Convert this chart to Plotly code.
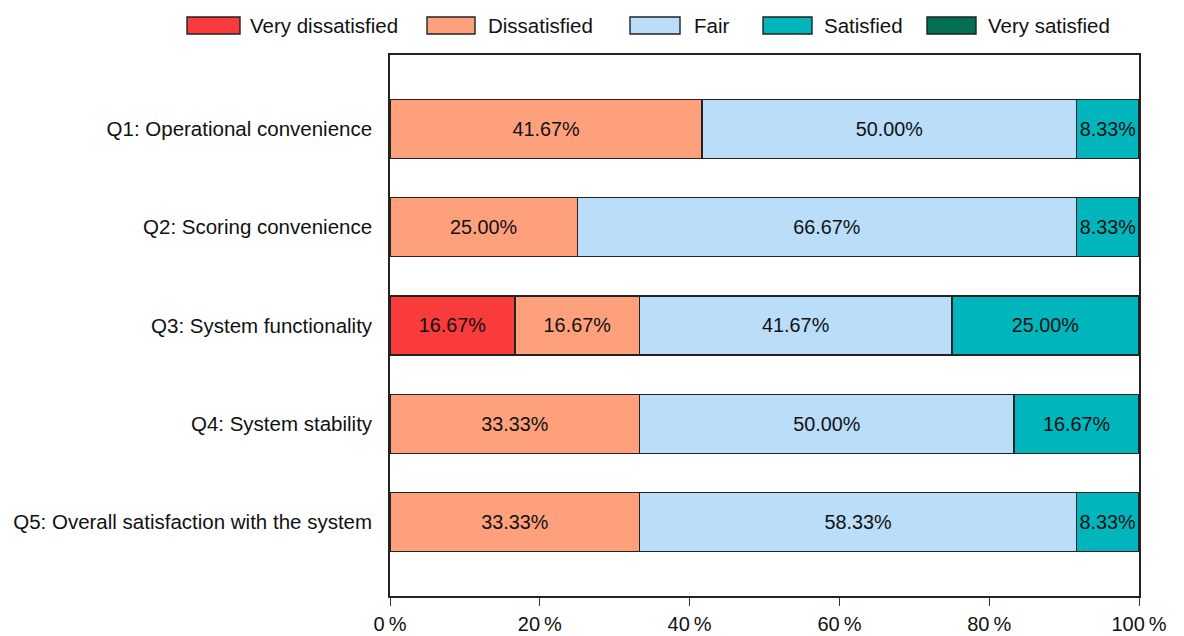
import plotly.graph_objects as go

# Survey questions (top to bottom)
questions = [
    "Q1: Operational convenience",
    "Q2: Scoring convenience",
    "Q3: System functionality",
    "Q4: System stability",
    "Q5: Overall satisfaction with the system",
]

# Response levels and their fill colours
levels = ["Very dissatisfied", "Dissatisfied", "Fair", "Satisfied", "Very satisfied"]
colors = ["#F93B3B", "#FFA07C", "#BADDFA", "#00B6BC", "#006F55"]

# Share of responses (%) per level, one value per question
very_dissatisfied = [0, 0, 16.67, 0, 0]
dissatisfied = [41.67, 25.00, 16.67, 33.33, 33.33]
fair = [50.00, 66.67, 41.67, 50.00, 58.33]
satisfied = [8.33, 8.33, 25.00, 16.67, 8.33]
very_satisfied = [0, 0, 0, 0, 0]

series = [very_dissatisfied, dissatisfied, fair, satisfied, very_satisfied]

# Axis ticks
x_ticks = [0, 20, 40, 60, 80, 100]
x_tick_text = ["0\u2009%", "20\u2009%", "40\u2009%", "60\u2009%", "80\u2009%", "100\u2009%"]

W, H = 1184, 636
L, R, T, B = 390, 1139, 55, 596  # plot area in pixels
FONT = "Arial, Liberation Sans, sans-serif"

fig = go.Figure()
for name, vals, col in zip(levels, series, colors):
    xs = [v if v > 0 else None for v in vals]
    fig.add_trace(go.Bar(
        y=questions,
        x=xs,
        name=name,
        orientation="h",
        width=0.6,
        marker=dict(color=col, line=dict(color="#222222", width=1.4)),
        text=[f"{v:.2f}%" if v else "" for v in vals],
        textposition="inside",
        insidetextanchor="middle",
        textangle=0,
        textfont=dict(family=FONT, size=20, color="#111111"),
        showlegend=False,
        hoverinfo="skip",
    ))


def px_x(p):
    return (p - L) / (R - L)


def px_y(p):
    return (B - p) / (B - T)


# Legend row across the top
swatches = [(187, 240), (427, 475), (630, 680), (763, 812), (927, 976)]
label_x = [248, 486, 692, 822, 986]
shapes = []
annotations = []
for (x0, x1), lx, name, col in zip(swatches, label_x, levels, colors):
    shapes.append(dict(
        type="rect", xref="paper", yref="paper",
        x0=px_x(x0), x1=px_x(x1), y0=px_y(34), y1=px_y(17),
        fillcolor=col, line=dict(color="#222222", width=1.4),
    ))
    annotations.append(dict(
        xref="paper", yref="paper", x=px_x(lx), y=px_y(25.5),
        xanchor="left", yanchor="middle", showarrow=False,
        text=name, font=dict(family=FONT, size=20.5, color="#111111"),
    ))

fig.update_layout(
    width=W, height=H,
    margin=dict(l=L, r=W - R, t=T, b=H - B, pad=0, autoexpand=False),
    barmode="stack",
    plot_bgcolor="white",
    paper_bgcolor="white",
    font=dict(family=FONT, size=18, color="#111111"),
    shapes=shapes,
    annotations=annotations,
    uniformtext=dict(minsize=14, mode="show"),
)
fig.update_xaxes(
    range=[0, 100],
    tickvals=x_ticks,
    ticktext=x_tick_text,
    ticks="outside", ticklen=8, tickwidth=1.4, tickcolor="#333333",
    ticklabelstandoff=1,
    showline=True, linecolor="#222222", linewidth=1.6, mirror=True,
    showgrid=False, zeroline=False, automargin=False,
    tickfont=dict(family=FONT, size=20, color="#111111"),
    fixedrange=True,
)
fig.update_yaxes(
    categoryorder="array", categoryarray=questions,
    range=[4.75, -0.75],
    ticks="", ticklabelstandoff=12,
    showline=True, linecolor="#222222", linewidth=1.6, mirror=True,
    showgrid=False, zeroline=False, automargin=False,
    tickfont=dict(family=FONT, size=20.5, color="#111111"),
    fixedrange=True,
)

fig.write_html("out.html")
